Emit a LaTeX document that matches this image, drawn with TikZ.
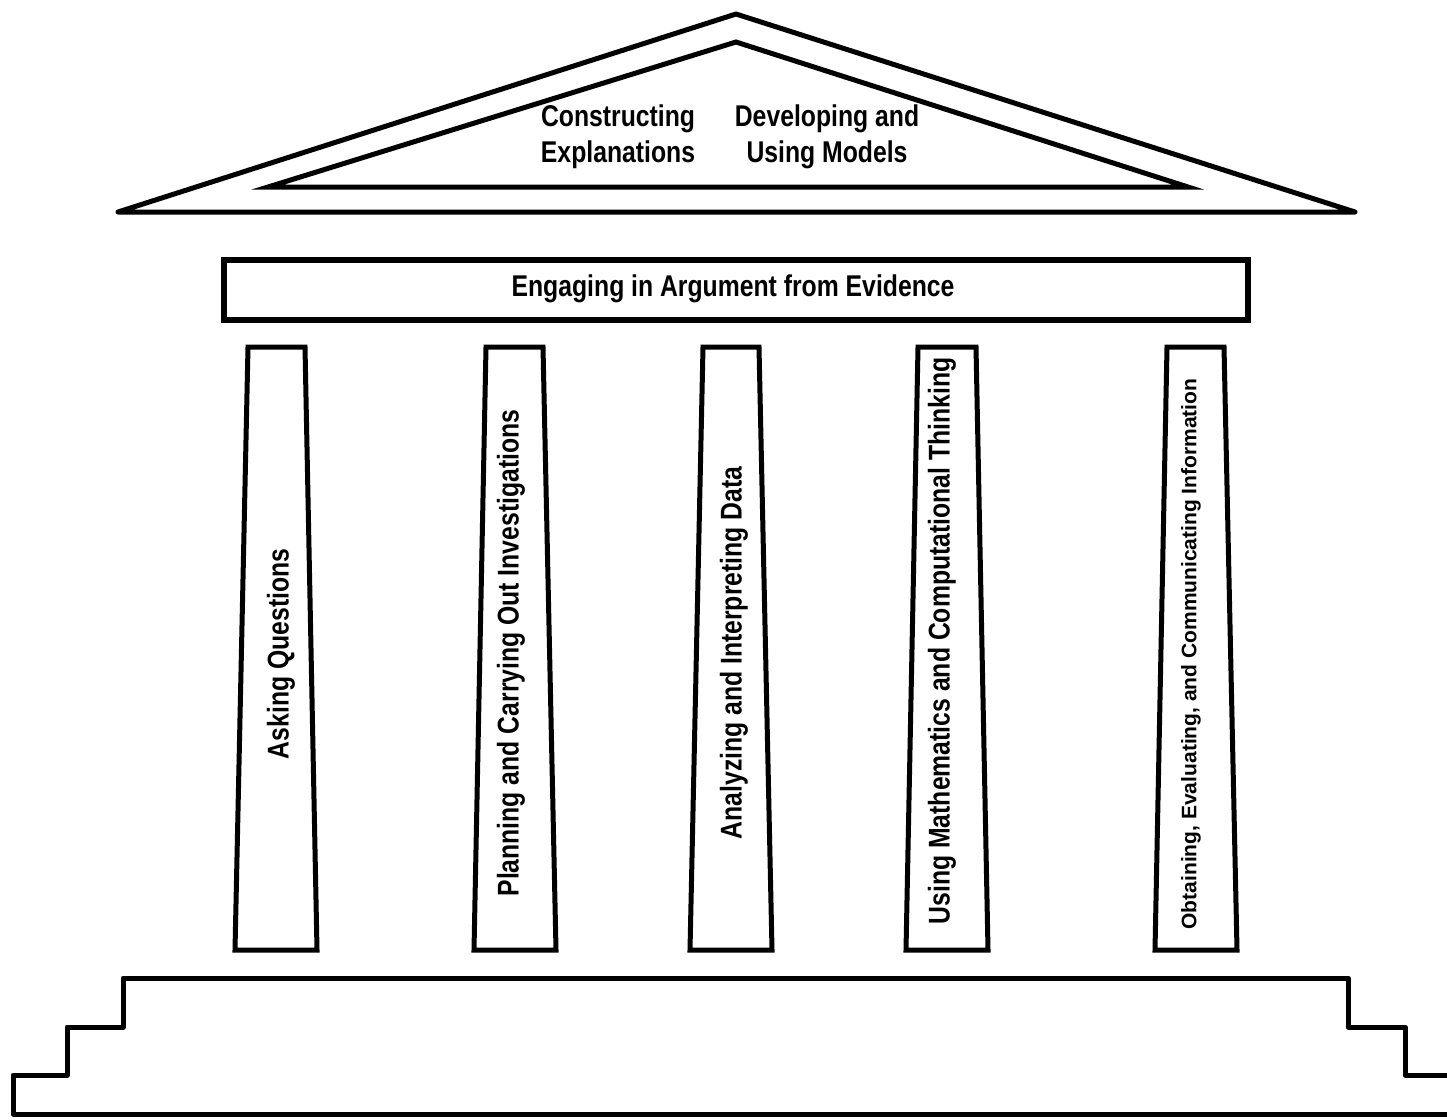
\documentclass[tikz,border=0pt]{standalone}
\usepackage{fontspec}
\setmainfont{Liberation Sans}
\newfontfamily\narrowfont[FakeStretch=0.825]{Liberation Sans}
\begin{document}
\begin{tikzpicture}[x=1pt,y=-1pt,
  outline/.style={draw=black, line width=5pt, line join=round},
  lbl/.style={font=\narrowfont\bfseries\fontsize{30}{36}\selectfont, inner sep=0pt, align=center},
  plbl/.style={lbl, rotate=90},
  slbl/.style={font=\bfseries\fontsize{21}{26}\selectfont, inner sep=0pt, rotate=90}]
\useasboundingbox (0,0) rectangle (1447,1119);
\fill[white] (0,0) rectangle (1447,1119);
% roof
\draw[outline] (118,212) -- (736,14) -- (1355,212) -- cycle;
\draw[outline, line join=miter] (268,187) -- (736,42) -- (1188,187) -- cycle;
\node[lbl] (ce) at (618,137) {Constructing\\Explanations};
\node[lbl] (dm) at (827,137) {Developing and\\Using Models};
% architrave
\draw[outline, line width=6pt, line join=miter] (224,260) rectangle (1248,320);
\node[lbl] (arg) at (733,289) {Engaging in Argument from Evidence};
% pillars
\draw[outline, line join=miter] (248,347) -- (305,347) -- (317,950) -- (235,950) -- cycle;
\draw[outline, line join=miter] (486,347) -- (543,347) -- (556,950) -- (474,950) -- cycle;
\draw[outline, line join=miter] (703,347) -- (759,347) -- (772,950) -- (690,950) -- cycle;
\draw[outline, line join=miter] (918,347) -- (976,347) -- (988,950) -- (906,950) -- cycle;
\draw[outline, line join=miter] (1167,347) -- (1224,347) -- (1237,950) -- (1155,950) -- cycle;
\node[plbl] (p1) at (281,654) {Asking Questions};
\node[plbl] (p2) at (511,653) {Planning and Carrying Out Investigations};
\node[plbl] (p3) at (734,653) {Analyzing and Interpreting Data};
\node[plbl] (p4) at (942,641) {Using Mathematics and Computational Thinking};
\node[slbl] (p5) at (1191,654) {Obtaining, Evaluating, and Communicating Information};
% base steps
\draw[outline] (1455,1075) -- (1405,1075) -- (1405,1027) -- (1348,1027) -- (1348,978)
  -- (123,978) -- (123,1027) -- (67,1027) -- (67,1075) -- (13,1075) -- (13,1114) -- (1455,1114);
\end{tikzpicture}
\end{document}
